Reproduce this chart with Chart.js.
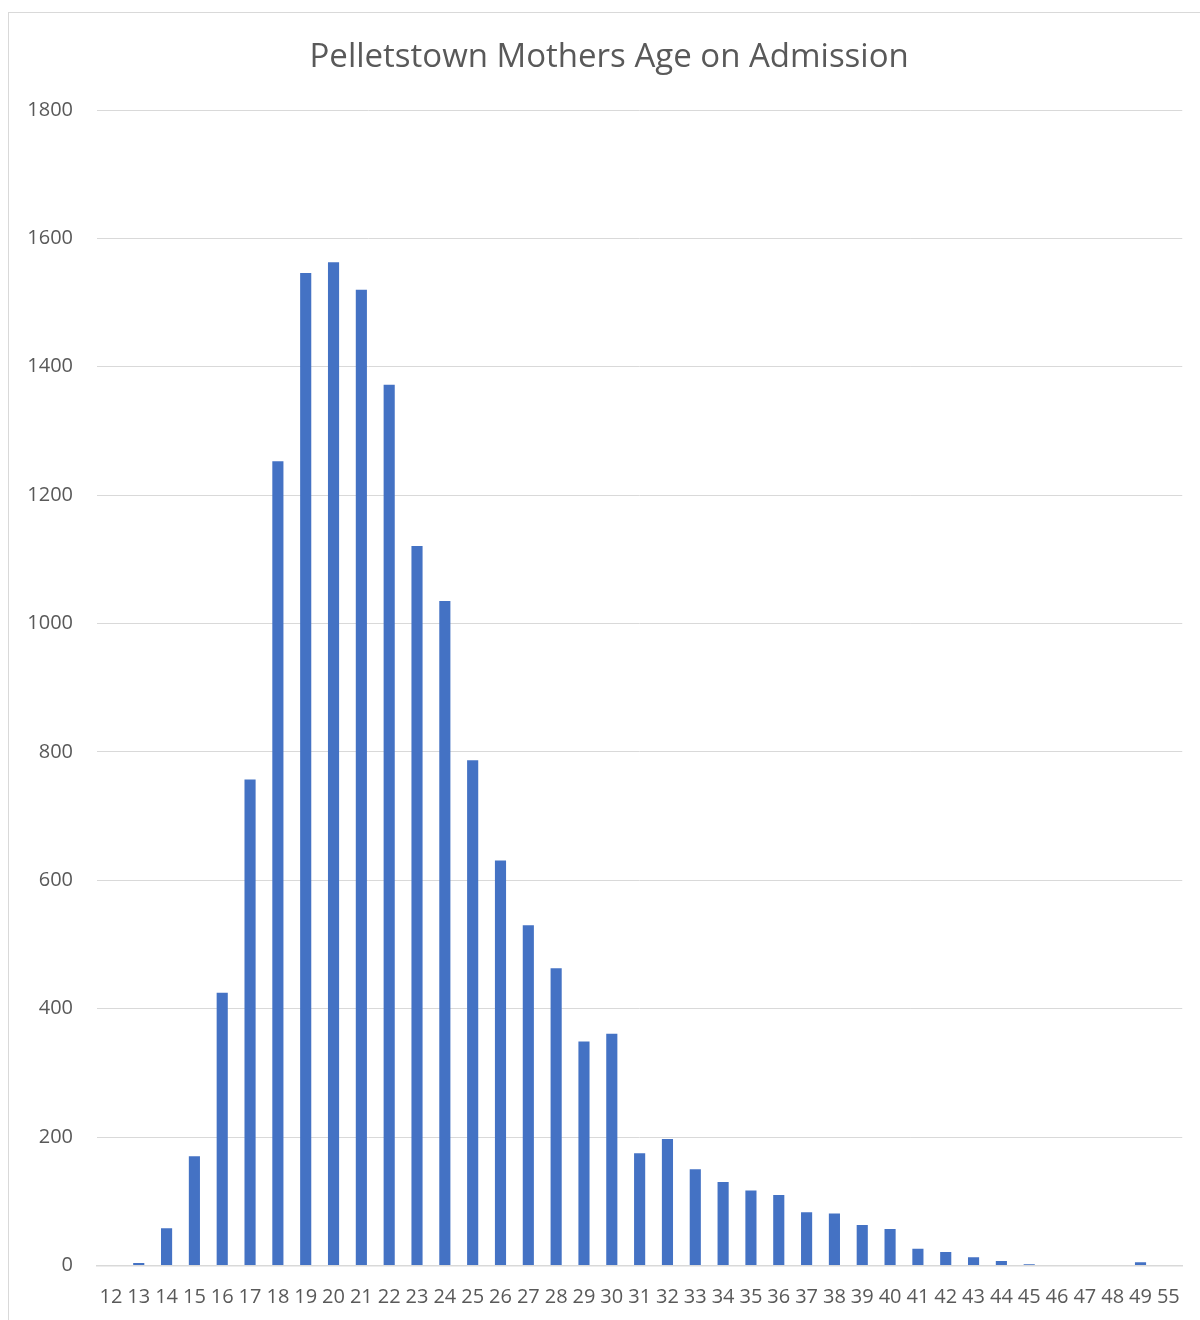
<!DOCTYPE html>
<html>
<head>
<meta charset="utf-8">
<title>Pelletstown Mothers Age on Admission</title>
<script src="https://cdn.jsdelivr.net/npm/chart.js@4"></script>
<style>
  html, body { margin: 0; padding: 0; background: #ffffff; }
  #wrap { position: relative; width: 1200px; height: 1320px; overflow: hidden; }
  #frame { position: absolute; left: 8px; top: 12px; width: 1300px; height: 1400px;
           border: 1px solid #d9d9d9; box-sizing: border-box; }
  canvas { position: absolute; left: 0; top: 0; }
</style>
</head>
<body>
<div id="wrap">
  <div id="frame"></div>
  <canvas id="chart" width="1200" height="1320"></canvas>
</div>
<script>
// Age of mother on admission (years)
const ages = ['12','13','14','15','16','17','18','19','20','21','22','23','24','25',
              '26','27','28','29','30','31','32','33','34','35','36','37','38','39',
              '40','41','42','43','44','45','46','47','48','49','55'];

// Number of mothers admitted at each age
const mothers = [0, 4, 58, 170, 425, 757, 1253, 1546, 1563, 1520, 1372, 1121, 1035, 787,
                 631, 530, 463, 349, 361, 175, 197, 150, 130, 117, 110, 83, 81, 63,
                 57, 26, 21, 13, 7, 2, 0, 0, 0, 5, 0];

// Value axis range and step
const yMin = 0;
const yMax = 1800;
const yStep = 200;

const titleText = 'Pelletstown Mothers Age on Admission';

const textColor = '#595959';
const gridColor = '#d9d9d9';
const barColor = '#4472C4';
const fontFamily = "'Open Sans', 'Noto Sans', sans-serif";

// Centre the title over the framed chart rather than the whole canvas
const titleCentring = {
  id: 'titleCentring',
  afterLayout(chart) {
    const tb = chart.titleBlock;
    if (tb) {
      tb.left = 36;
      tb.right = chart.chartArea.right;
    }
  }
};

new Chart(document.getElementById('chart'), {
  type: 'bar',
  data: {
    labels: ages,
    datasets: [{
      label: 'Mothers',
      data: mothers,
      backgroundColor: barColor,
      borderWidth: 0,
      barPercentage: 0.4,
      categoryPercentage: 1.0
    }]
  },
  plugins: [titleCentring],
  options: {
    responsive: false,
    animation: false,
    layout: { padding: { top: 38, right: 17, bottom: 0, left: 0 } },
    plugins: {
      legend: { display: false },
      tooltip: { enabled: false },
      title: {
        display: true,
        text: titleText,
        color: textColor,
        font: { family: fontFamily, size: 33, weight: 'normal', lineHeight: 1.2 },
        padding: { top: 0, bottom: 32.4 }
      }
    },
    scales: {
      x: {
        type: 'category',
        offset: true,
        grid: { display: false, drawTicks: false },
        border: { display: true, color: gridColor, width: 1.5 },
        ticks: {
          color: textColor,
          font: { family: fontFamily, size: 20 },
          padding: 20,
          maxRotation: 0,
          autoSkip: false
        },
        afterFit: (scale) => { scale.height = 54.5; }
      },
      y: {
        min: yMin,
        max: yMax,
        grid: { color: gridColor, lineWidth: 1, drawTicks: false },
        border: { display: false },
        ticks: {
          stepSize: yStep,
          color: textColor,
          font: { family: fontFamily, size: 20 },
          padding: 24,
          callback: (value) => String(value)
        },
        afterFit: (scale) => { scale.width = 97; }
      }
    }
  }
});
</script>
</body>
</html>
